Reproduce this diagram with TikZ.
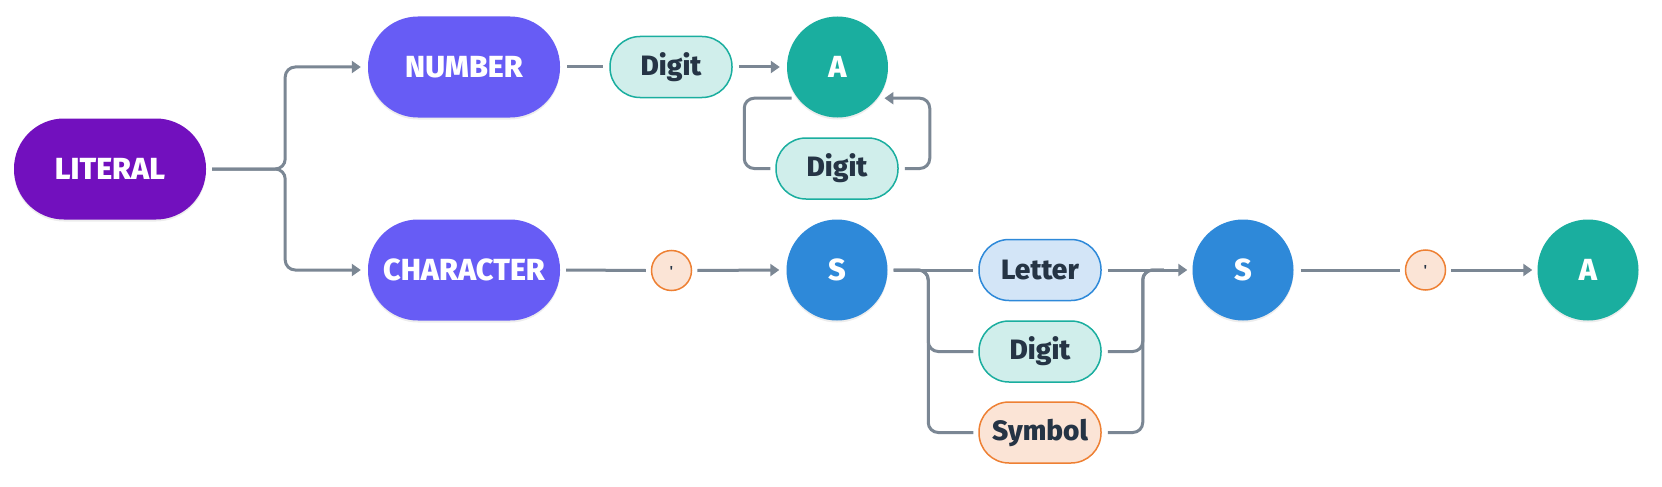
\documentclass[tikz,border=0pt]{standalone}
\usepackage{fontspec}
\setmainfont{Fira Sans}[BoldFont={Fira Sans ExtraBold}]
\newfontfamily\plainf{Fira Sans}
\usetikzlibrary{arrows.meta,shadows}
\definecolor{litc}{HTML}{7210BE}
\definecolor{catc}{HTML}{675CF5}
\definecolor{tealc}{HTML}{1AAE9F}
\definecolor{bluec}{HTML}{2E89D9}
\definecolor{digf}{HTML}{D0EEEB}
\definecolor{letf}{HTML}{D3E5F7}
\definecolor{symf}{HTML}{FBE4D6}
\definecolor{orc}{HTML}{EE8033}
\definecolor{linec}{HTML}{7B8794}
\definecolor{txtc}{HTML}{253445}
\begin{document}
\begin{tikzpicture}[x=1pt,y=-1pt,
  shad/.style={drop shadow={shadow xshift=0pt,shadow yshift=-2pt,opacity=0.07,fill=black}},
  big/.style={rectangle,rounded corners=50pt,minimum width=192pt,minimum height=101pt,
    inner sep=0pt,text=white,font=\fontsize{30.5}{36}\selectfont\bfseries,shad},
  circ/.style={circle,minimum size=101pt,inner sep=0pt,text=white,
    font=\fontsize{30.5}{36}\selectfont\bfseries,shad},
  pill/.style={rectangle,rounded corners=30pt,minimum width=122pt,minimum height=61pt,
    inner sep=0pt,line width=1.5pt,text=txtc,font=\fontsize{28}{34}\selectfont\bfseries},
  digitpill/.style={pill,draw=tealc,fill=digf},
  letterpill/.style={pill,draw=bluec,fill=letf},
  symbolpill/.style={pill,draw=orc,fill=symf},
  quotedot/.style={circle,minimum size=40pt,inner sep=0pt,draw=orc,fill=symf,line width=1.5pt,
    text=txtc,font=\plainf\fontsize{13}{13}\selectfont\bfseries},
  conn/.style={draw=linec,line width=3pt,rounded corners=10pt},
  arr/.style={conn,-{Triangle[length=9pt,width=12pt]}},
]
\useasboundingbox (0,0) rectangle (1662,487);
\fill[white] (0,0) rectangle (1662,487);

% nodes
\node[big,fill=litc] (lit) at (110,169) {LITERAL};
\node[big,fill=catc] (num) at (464,67) {NUMBER};
\node[big,fill=catc] (chr) at (464,270) {CHARACTER};
\node[digitpill] (dig1) at (671,67) {Digit};
\node[circ,fill=tealc] (a1) at (837.5,67) {A};
\node[digitpill] (dig2) at (837,168.5) {Digit};
\node[quotedot] (q1) at (671.5,270.5) {'};
\node[circ,fill=bluec] (s1) at (837,270) {S};
\node[letterpill] (let) at (1040,270) {Letter};
\node[digitpill] (dig3) at (1040,351.5) {Digit};
\node[symbolpill] (sym) at (1040,432.5) {Symbol};
\node[circ,fill=bluec] (s2) at (1243,270) {S};
\node[quotedot] (q2) at (1425.5,270) {'};
\node[circ,fill=tealc] (a2) at (1588,270) {A};

% LITERAL branches
\draw[arr] ([xshift=6pt]lit.east) -- ([xshift=79pt]lit.east) |- ([xshift=-7pt]num.west);
\draw[arr] ([xshift=6pt]lit.east) -- ([xshift=79pt]lit.east) |- ([xshift=-7pt]chr.west);

% NUMBER row
\draw[conn] ([xshift=7pt]num.east) -- ([xshift=-6pt]dig1.west);
\draw[arr] ([xshift=6pt]dig1.east) -- ([xshift=-7pt]a1.west);
\draw[conn] ([xshift=-6pt]a1.218) -| ([xshift=-31pt]dig2.west) -- ([xshift=-5pt]dig2.west);
\draw[arr] ([xshift=6pt]dig2.east) -- ([xshift=31pt]dig2.east) |- ([xshift=7pt]a1.322);

% CHARACTER row
\draw[conn] ([xshift=6pt]chr.east) -- ([xshift=-5pt]q1.west);
\draw[arr] ([xshift=5pt]q1.east) -- ([xshift=-7pt]s1.west);
\draw[conn] ([xshift=6pt]s1.east) -- ([xshift=-5pt]let.west);
\draw[conn] ([xshift=6pt]s1.east) -- ([xshift=-50pt]let.west) |- ([xshift=-5pt]dig3.west);
\draw[conn] ([xshift=6pt]s1.east) -- ([xshift=-50pt]let.west) |- ([xshift=-5pt]sym.west);
\draw[arr] ([xshift=6pt]let.east) -- ([xshift=-5pt]s2.west);
\draw[conn] ([xshift=6pt]dig3.east) -| ([xshift=41pt]let.east) -- ([xshift=62pt]let.east);
\draw[conn] ([xshift=6pt]sym.east) -| ([xshift=41pt]let.east) -- ([xshift=62pt]let.east);
\draw[conn] ([xshift=7pt]s2.east) -- ([xshift=-5pt]q2.west);
\draw[arr] ([xshift=5pt]q2.east) -- ([xshift=-5pt]a2.west);
\end{tikzpicture}
\end{document}
